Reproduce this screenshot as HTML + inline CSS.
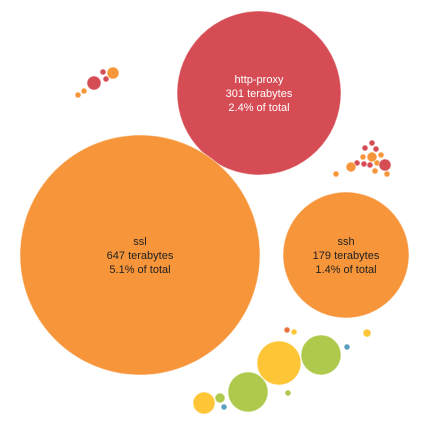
<!DOCTYPE html>
<html><head><meta charset="utf-8"><style>
html,body{margin:0;padding:0;background:#fff;}
svg{display:block;font-family:"Liberation Sans",sans-serif;}
</style></head><body>
<svg id="chart" width="427" height="424"></svg>
<script>
const labels=["http-proxy","ssl","ssh"];
const terabytes=[301,647,179];
const percents=["2.4%","5.1%","1.4%"];
const bigX=[259,140,346];
const bigY=[93,255,255];
const bigR=[82,120,63];
const bigColor=["#d64c55","#f7953a","#f7953a"];
const smallX=[94,113,103,106,84,78,372,365,372,376,381,363,357,364,370,377,385,351,375,387,336,321,279,248,204,220,224,288,347,367,287,294];
const smallY=[83,73,72,79,91,95,143,148,157,149,155,157,163,164,165,163,165,167,171,174,174,355,363,392,403,398,407,393,347,333,330,332];
const smallR=[7,6,3,3,3,3,3,3,5,3,3,3,3,3,3,3,6,5,3,3,3,20,22,20,11,5,3,3,3,4,3,3];
const smallColor=["#d64c55","#f7953a","#d64c55","#d64c55","#f7953a","#f7953a","#d64c55","#d64c55","#f7953a","#d64c55","#f7953a","#f7953a","#d64c55","#d64c55","#d64c55","#f7953a","#d64c55","#f7953a","#f7953a","#f7953a","#f7953a","#aec94b","#fec536","#aec94b","#fec536","#aec94b","#5a9fbf","#aec94b","#5a9fbf","#fec536","#e8703a","#fec536"];
const svg=document.getElementById('chart');
const NS='http://www.w3.org/2000/svg';
function circ(x,y,r,c){const e=document.createElementNS(NS,'circle');e.setAttribute('cx',x);e.setAttribute('cy',y);e.setAttribute('r',r);e.setAttribute('fill',c);e.setAttribute('stroke','#fff');e.setAttribute('stroke-opacity','0.5');svg.appendChild(e);return e;}
for(let i=0;i<smallX.length;i++){
  const e=circ(smallX[i],smallY[i],smallR[i],smallColor[i]);
  
  
}
for(let i=0;i<labels.length;i++){
  const e=circ(bigX[i],bigY[i],bigR[i],bigColor[i]);
  
  
  const lines=[labels[i],terabytes[i]+' terabytes',percents[i]+' of total'];
  lines.forEach((s,j)=>{
    const t=document.createElementNS(NS,'text');
    t.setAttribute('x',bigX[i]);t.setAttribute('y',bigY[i]-10+j*14);
    t.setAttribute('text-anchor','middle');t.setAttribute('font-size','11');
    t.setAttribute('fill',i===0?'#fff':'#222');
    t.textContent=s;
    
    
    svg.appendChild(t);
  });
}
</script>
</body></html>
